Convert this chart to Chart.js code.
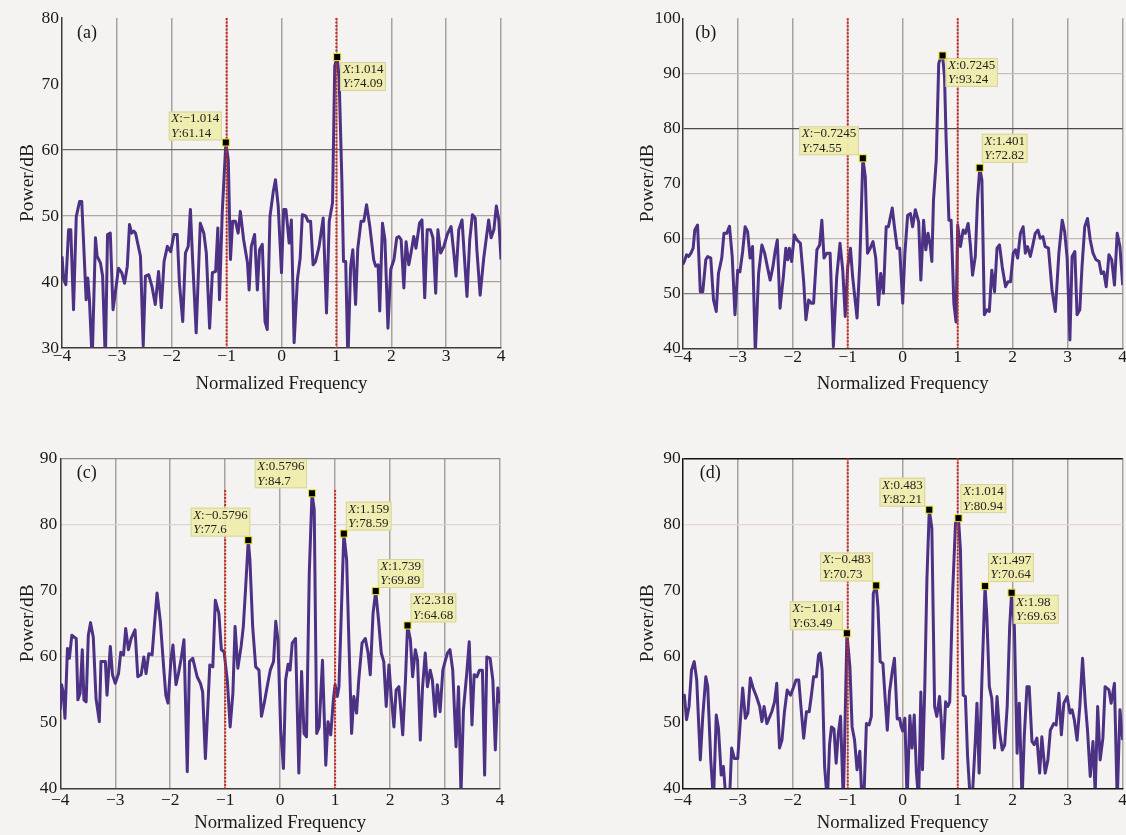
<!DOCTYPE html>
<html><head><meta charset="utf-8">
<script src="https://cdn.jsdelivr.net/npm/chart.js@4.4.0/dist/chart.umd.min.js"></script>
<style>
html,body{margin:0;padding:0;background:#f4f3f1;overflow:hidden;width:1126px;height:835px;position:relative;}
canvas{position:absolute;}
</style></head><body>
<canvas id="ca" width="520" height="400" style="left:0px;top:0px"></canvas>
<canvas id="cb" width="540" height="400" style="left:600px;top:0px"></canvas>
<canvas id="cc" width="520" height="395" style="left:0px;top:440px"></canvas>
<canvas id="cd" width="540" height="395" style="left:600px;top:440px"></canvas>
<script>
// ---------- shared tick labels ----------
const xTickValues = [-4,-3,-2,-1,0,1,2,3,4];
const yTicksA = [30,40,50,60,70,80];
const yTicksB = [40,50,60,70,80,90,100];
const yTicksC = [40,50,60,70,80,90];
const yTicksD = [40,50,60,70,80,90];
const panelLabels = ['(a)','(b)','(c)','(d)'];
const xTitle = 'Normalized Frequency';
const yTitle = 'Power/dB';

// ---------- panel (a) ----------
const freqA = [-4.00,-3.97,-3.93,-3.88,-3.84,-3.79,-3.74,-3.68,-3.64,-3.56,-3.53,-3.50,-3.45,-3.39,-3.36,-3.30,-3.26,-3.21,-3.17,-3.12,-3.07,-3.03,-2.97,-2.91,-2.86,-2.81,-2.77,-2.73,-2.69,-2.66,-2.57,-2.52,-2.48,-2.42,-2.36,-2.30,-2.24,-2.19,-2.14,-2.08,-2.02,-1.96,-1.90,-1.86,-1.80,-1.75,-1.70,-1.66,-1.62,-1.555,-1.48,-1.415,-1.37,-1.31,-1.26,-1.20,-1.16,-1.13,-1.08,-1.014,-0.97,-0.93,-0.89,-0.84,-0.79,-0.75,-0.69,-0.62,-0.59,-0.55,-0.49,-0.44,-0.40,-0.35,-0.30,-0.26,-0.21,-0.15,-0.11,-0.06,0.00,0.04,0.08,0.14,0.18,0.23,0.29,0.34,0.38,0.44,0.485,0.53,0.576,0.62,0.685,0.76,0.82,0.87,0.93,0.97,1.014,1.05,1.10,1.13,1.17,1.21,1.26,1.30,1.35,1.39,1.45,1.50,1.55,1.61,1.68,1.715,1.76,1.79,1.84,1.885,1.94,1.99,2.05,2.10,2.14,2.18,2.23,2.27,2.32,2.36,2.41,2.45,2.515,2.56,2.61,2.655,2.715,2.76,2.81,2.85,2.90,2.96,3.02,3.09,3.14,3.18,3.23,3.29,3.34,3.38,3.43,3.48,3.53,3.56,3.62,3.685,3.775,3.82,3.87,3.915,3.96,4.00];
const powerA = [43.9,40.4,39.6,47.9,47.9,35.8,49.9,52.2,52.2,37.3,40.6,37.3,28,46.7,43.9,42.9,40.9,28,47.2,47.4,35.8,38.3,42.1,41.4,39.8,42.4,48.7,47.4,47.7,47.4,43.9,30.3,40.9,41.1,39.3,36.6,41.6,36.1,43.1,45.4,44.6,47.2,47.2,39.8,34.0,44.4,45.4,51.0,43.4,32.3,48.9,47.4,44.4,33.0,41.4,41.6,48.2,37.3,50.5,61.14,58.5,43.4,49.2,49.2,47.4,50.7,46.4,42.9,38.8,45.4,47.2,38.8,44.9,45.7,34.0,32.8,49.9,53.7,55.5,51.5,41.4,51.0,51.0,45.9,49.4,30.8,40.4,43.6,50.2,50.0,49.2,49.2,42.6,43.1,45.4,49.7,35.3,49.2,52.0,72.7,74.09,70.9,55.5,43.1,43.1,28,42.4,44.9,36.6,45.1,49.2,49.2,51.7,48.4,43.4,42.4,42.6,35.6,48.9,46.4,33.0,41.9,43.4,46.7,46.9,46.4,39.1,46.1,42.6,44.4,46.9,45.1,48.9,49.4,37.6,47.9,47.9,46.7,38.3,47.9,44.4,45.4,47.2,48.4,44.4,40.9,47.9,49.4,42.9,37.8,46.4,50.2,49.7,44.9,38.0,43.6,49.4,46.7,47.9,51.5,49.4,43.4];
const tipXA = [-1.014, 1.014];
const tipYA = [61.14, 74.09];

// ---------- panel (b) ----------
const freqB = [-4.00,-3.97,-3.93,-3.89,-3.85,-3.81,-3.78,-3.73,-3.68,-3.635,-3.58,-3.545,-3.49,-3.44,-3.39,-3.35,-3.29,-3.25,-3.20,-3.15,-3.10,-3.05,-3.00,-2.96,-2.91,-2.865,-2.82,-2.775,-2.73,-2.68,-2.62,-2.56,-2.51,-2.46,-2.41,-2.36,-2.32,-2.28,-2.23,-2.17,-2.125,-2.09,-2.06,-2.02,-1.97,-1.925,-1.86,-1.80,-1.76,-1.71,-1.66,-1.62,-1.56,-1.51,-1.47,-1.43,-1.38,-1.32,-1.26,-1.20,-1.14,-1.09,-1.045,-1.00,-0.95,-0.91,-0.83,-0.78,-0.7245,-0.68,-0.64,-0.59,-0.54,-0.49,-0.44,-0.40,-0.35,-0.30,-0.26,-0.19,-0.15,-0.10,-0.055,0.00,0.04,0.09,0.14,0.18,0.23,0.29,0.33,0.38,0.42,0.46,0.50,0.53,0.56,0.61,0.655,0.685,0.7245,0.76,0.79,0.84,0.88,0.93,0.97,1.00,1.05,1.10,1.14,1.19,1.23,1.27,1.32,1.36,1.401,1.44,1.485,1.53,1.575,1.62,1.67,1.715,1.76,1.81,1.87,1.915,1.96,2.01,2.05,2.09,2.14,2.19,2.23,2.27,2.32,2.36,2.41,2.46,2.50,2.55,2.59,2.65,2.715,2.775,2.84,2.90,2.945,2.99,3.04,3.08,3.13,3.17,3.22,3.26,3.31,3.36,3.41,3.46,3.515,3.57,3.61,3.655,3.70,3.75,3.80,3.85,3.90,3.95,4.00];
const powerB = [55.2,55.8,57.0,56.7,57.3,58.2,61.5,62.4,50.3,50.3,56.1,56.7,56.4,48.8,46.7,53.6,56.4,60.9,60.9,62.2,56.7,46.1,54.2,53.9,57.6,62.1,61.2,56.4,58.5,39,53.6,58.8,57.3,54.8,52.4,54.8,57.6,59.7,47.3,53.0,58.2,56.1,58.2,55.8,60.6,59.7,59.1,52.1,45.2,48.8,48.2,48.2,57.9,58.8,63.3,56.4,57.3,57.3,40.3,53.0,59.1,54.2,45.8,54.8,58.2,53.0,45.5,55.5,74.55,71.2,57.3,58.2,59.4,56.4,47.9,53.6,50.0,62.1,62.1,65.5,62.1,58.2,58.2,48.2,57.3,64.2,64.5,62.1,65.2,63.0,52.4,63.3,57.9,60.9,58.8,55.8,67.0,74.2,91.8,92.7,93.24,89.4,77.9,63.3,63.3,48.2,44.8,62.4,58.5,61.5,60.9,62.7,58.8,53.3,56.7,67.0,72.82,70.6,46.1,47.0,46.7,54.2,50.3,58.2,58.8,54.8,51.2,52.1,52.1,57.3,57.9,56.4,60.9,62.1,57.3,58.5,56.7,58.5,60.9,61.5,60.0,60.3,58.5,58.2,50.6,46.7,57.3,63.3,61.2,56.4,41.5,56.7,57.6,46.1,47.0,54.8,62.1,63.6,59.7,57.3,56.1,55.8,53.6,53.9,51.2,57.0,56.1,51.5,60.9,58.5,51.5];
const tipXB = [-0.7245, 0.7245, 1.401];
const tipYB = [74.55, 93.24, 72.82];

// ---------- panel (c) ----------
const freqC = [-4.00,-3.976,-3.945,-3.915,-3.87,-3.835,-3.79,-3.75,-3.71,-3.68,-3.64,-3.60,-3.57,-3.53,-3.49,-3.45,-3.40,-3.35,-3.29,-3.26,-3.18,-3.15,-3.09,-3.05,-3.00,-2.94,-2.90,-2.85,-2.81,-2.76,-2.71,-2.64,-2.59,-2.53,-2.48,-2.44,-2.39,-2.33,-2.29,-2.24,-2.18,-2.12,-2.08,-2.04,-1.985,-1.95,-1.895,-1.85,-1.80,-1.75,-1.69,-1.65,-1.59,-1.51,-1.45,-1.41,-1.36,-1.28,-1.225,-1.18,-1.115,-1.07,-1.02,-0.96,-0.91,-0.86,-0.82,-0.77,-0.71,-0.67,-0.63,-0.5796,-0.55,-0.50,-0.445,-0.385,-0.34,-0.29,-0.23,-0.18,-0.12,-0.08,-0.04,0.01,0.06,0.10,0.145,0.18,0.22,0.28,0.34,0.39,0.435,0.48,0.53,0.5796,0.62,0.665,0.71,0.77,0.83,0.87,0.92,0.97,1.00,1.04,1.07,1.159,1.21,1.25,1.30,1.34,1.39,1.43,1.49,1.55,1.60,1.64,1.69,1.739,1.79,1.84,1.885,1.93,1.98,2.02,2.07,2.11,2.16,2.19,2.23,2.28,2.318,2.37,2.41,2.46,2.50,2.55,2.59,2.64,2.68,2.73,2.77,2.82,2.86,2.91,2.96,3.00,3.045,3.09,3.14,3.20,3.245,3.29,3.335,3.395,3.44,3.49,3.53,3.58,3.625,3.68,3.72,3.76,3.82,3.87,3.915,3.96,4.00];
const powerC = [51.9,55.7,54.4,50.6,61.2,59.7,63.2,62.9,62.7,53.4,54.4,61.0,53.4,53.1,63.2,65.1,62.9,53.6,50.1,59.2,59.2,54.1,61.5,57.2,55.9,57.4,60.6,60.2,64.2,61.0,62.7,64.0,56.9,57.2,59.9,57.4,60.4,60.2,64.5,69.6,65.3,58.4,54.1,52.9,59.7,61.7,55.7,57.4,59.7,62.5,42.5,59.2,59.7,56.9,55.9,54.6,44.5,58.7,58.4,68.5,66.5,61.0,60.7,56.2,49.3,54.4,64.5,58.2,61.5,64.5,70.1,77.6,74.6,64.5,58.4,57.9,50.9,52.9,55.7,57.9,59.2,65.3,62.5,48.8,43.0,56.4,58.8,57.9,62.0,62.7,42.3,57.7,48.3,47.8,72.6,84.7,82.2,48.3,49.3,59.4,43.5,50.1,48.1,53.6,55.7,53.9,55.4,78.59,74.6,62.5,48.3,53.9,51.4,56.4,62.0,62.7,60.5,57.2,66.5,69.89,65.5,60.5,59.2,52.4,58.7,54.1,49.3,54.9,55.4,52.4,48.1,56.4,64.68,62.5,56.9,61.0,59.4,47.3,55.2,60.5,55.4,57.9,56.4,50.9,55.7,51.6,57.9,59.2,60.5,61.0,57.9,46.3,55.4,39,51.9,57.4,62.2,49.6,57.2,56.9,57.9,57.9,42.0,59.9,59.7,56.4,45.8,55.2,52.9];
const tipXC = [-0.5796, 0.5796, 1.159, 1.739, 2.318];
const tipYC = [77.6, 84.7, 78.59, 69.89, 64.68];

// ---------- panel (d) ----------
const freqD = [-4.00,-3.97,-3.93,-3.885,-3.84,-3.79,-3.745,-3.68,-3.635,-3.58,-3.545,-3.49,-3.44,-3.39,-3.35,-3.30,-3.26,-3.21,-3.15,-3.11,-3.06,-3.00,-2.955,-2.91,-2.86,-2.815,-2.77,-2.72,-2.66,-2.60,-2.56,-2.52,-2.47,-2.43,-2.38,-2.33,-2.29,-2.24,-2.195,-2.15,-2.10,-2.04,-1.99,-1.94,-1.89,-1.84,-1.80,-1.75,-1.70,-1.66,-1.62,-1.57,-1.53,-1.50,-1.465,-1.42,-1.37,-1.33,-1.295,-1.25,-1.21,-1.17,-1.13,-1.08,-1.05,-1.014,-0.96,-0.92,-0.875,-0.83,-0.78,-0.74,-0.705,-0.66,-0.61,-0.57,-0.535,-0.483,-0.45,-0.41,-0.36,-0.31,-0.28,-0.24,-0.19,-0.15,-0.10,-0.055,-0.03,0.00,0.04,0.08,0.13,0.17,0.21,0.25,0.29,0.33,0.36,0.40,0.44,0.483,0.53,0.58,0.62,0.67,0.70,0.73,0.78,0.82,0.855,0.91,0.96,1.014,1.05,1.10,1.14,1.18,1.23,1.27,1.32,1.35,1.39,1.44,1.497,1.53,1.575,1.62,1.67,1.715,1.76,1.81,1.855,1.90,1.945,1.98,2.03,2.08,2.12,2.17,2.21,2.26,2.30,2.35,2.39,2.44,2.49,2.53,2.59,2.64,2.685,2.745,2.79,2.84,2.885,2.93,2.99,3.04,3.08,3.12,3.17,3.22,3.27,3.32,3.36,3.41,3.46,3.50,3.545,3.59,3.64,3.68,3.75,3.79,3.85,3.90,3.95,4.00];
const powerD = [54.1,54.1,50.4,52.4,57.9,59.2,56.4,44.3,50.9,56.9,55.4,44.3,38,51.1,49.1,42.0,43.3,38,38,46.1,44.5,44.5,49.8,55.2,50.6,51.4,56.7,55.2,53.9,52.4,50.1,52.4,49.8,50.6,51.6,53.1,55.9,46.1,47.3,51.6,54.9,54.1,55.2,56.4,56.4,51.4,47.6,51.6,51.6,54.1,56.9,56.9,60.2,60.5,57.9,43.3,38,46.6,49.3,49.0,43.8,48.3,50.9,38,49.3,63.49,58.4,49.3,47.3,42.8,45.6,38,38.5,49.8,49.6,50.9,69.5,70.73,67.5,59.2,58.9,52.4,48.8,54.6,57.7,59.7,50.5,50.6,49.4,48.7,50.6,38,51.0,46.1,51.1,42.3,38,54.6,42.8,54.8,71.6,82.21,79.4,52.4,50.9,53.9,50.4,44.5,53.1,52.4,53.1,70.1,80.2,80.94,76.1,54.1,53.9,44.8,38,39.3,47.1,52.9,42.3,56.4,70.64,66.0,55.4,53.6,46.1,53.9,48.6,45.8,46.6,52.4,64.5,69.63,64.5,45.3,52.9,38,47.8,55.4,55.4,47.1,46.6,47.6,42.3,47.8,42.3,44.3,48.8,49.8,49.6,54.4,48.1,52.9,53.9,51.4,51.9,50.4,47.3,52.4,59.7,52.9,48.8,41.8,47.1,39.3,52.4,44.3,47.6,55.4,54.9,52.9,55.9,38,51.9,47.3];
const tipXD = [-1.014, -0.483, 0.483, 1.014, 1.497, 1.98];
const tipYD = [63.49, 70.73, 82.21, 80.94, 70.64, 69.63];

// ---------- styling (not data) ----------
const SERIF = '"Liberation Serif", "Times New Roman", serif';
const LINE_COLOR = '#4d3184';
const GRID_V = 'rgba(120,112,108,0.62)';

function fmt(v){ return String(v).replace('-', '\u2212'); }

const overlayPlugin = {
  id: 'overlay',
  afterDatasetsDraw(chart, args, o) {
    const {ctx, chartArea: a} = chart;
    const x = chart.scales.x, y = chart.scales.y;
    ctx.save();
    ctx.strokeStyle = '#d3261c';
    ctx.lineWidth = 2;
    ctx.setLineDash([2, 1.5]);
    o.redLines.forEach(v => {
      const px = x.getPixelForValue(v);
      const top = o.redFrom != null ? y.getPixelForValue(o.redFrom) : a.top;
      ctx.beginPath(); ctx.moveTo(px, top); ctx.lineTo(px, a.bottom); ctx.stroke();
    });
    ctx.setLineDash([]);
    ctx.fillStyle = '#161616';
    ctx.font = '18px ' + SERIF;
    ctx.textAlign = 'left'; ctx.textBaseline = 'middle';
    ctx.fillText(o.label, a.left + o.labelDx, a.top + o.labelDy);
    o.tipX.forEach((tx, i) => {
      const ty = o.tipY[i];
      const px = x.getPixelForValue(tx), py = y.getPixelForValue(ty);
      drawTip(ctx, px, py, tx, ty, o.place[i]);
    });
    ctx.restore();
  }
};

function drawTip(ctx, px, py, tx, ty, pl) {
  const fs = 13;
  const it = 'italic ' + fs + 'px ' + SERIF, rg = fs + 'px ' + SERIF;
  const sx = ':' + fmt(tx), sy = ':' + fmt(ty);
  ctx.font = it; const wX = ctx.measureText('X').width, wY = ctx.measureText('Y').width;
  ctx.font = rg; const w1 = wX + ctx.measureText(sx).width, w2 = wY + ctx.measureText(sy).width;
  const bw = Math.max(w1, w2) + 5, bh = 29;
  const bx = pl.h === 'l' ? px + pl.ox - bw : px + pl.ox;
  const by = pl.v === 'a' ? py + pl.oy - bh : py + pl.oy;
  ctx.fillStyle = 'rgba(239,236,174,0.96)';
  ctx.fillRect(bx, by, bw, bh);
  ctx.strokeStyle = 'rgba(214,211,160,1)'; ctx.lineWidth = 1;
  ctx.strokeRect(bx + 0.5, by + 0.5, bw - 1, bh - 1);
  ctx.fillStyle = '#1e1e1e'; ctx.textBaseline = 'middle'; ctx.textAlign = 'left';
  [['X', sx, by + 7.5, wX], ['Y', sy, by + 22, wY]].forEach(([l, s, yy, lw]) => {
    ctx.font = it; ctx.fillText(l, bx + 2.5, yy);
    ctx.font = rg; ctx.fillText(s, bx + 2.5 + lw, yy);
  });
  ctx.fillStyle = '#e6df1c'; ctx.fillRect(px - 4, py - 4, 8, 8);
  ctx.fillStyle = '#000'; ctx.fillRect(px - 3, py - 3, 6, 6);
}

function makePanel(id, cfg) {
  const pts = cfg.freq.map((f, i) => ({x: f, y: cfg.power[i]}));
  return new Chart(document.getElementById(id), {
    type: 'line',
    data: { datasets: [{ data: pts, borderColor: LINE_COLOR, borderWidth: 3, pointRadius: 0,
      tension: 0, borderJoinStyle: 'round', fill: false }] },
    options: {
      responsive: false, animation: false, events: [],
      layout: { padding: { left: 0, right: cfg.padRight, top: cfg.padTop, bottom: 0 } },
      plugins: { legend: { display: false }, tooltip: { enabled: false },
        overlay: { redLines: [-1, 1], redFrom: cfg.redFrom, label: cfg.label,
          labelDx: cfg.labelDx, labelDy: 15, tipX: cfg.tipX, tipY: cfg.tipY, place: cfg.place } },
      scales: {
        x: {
          type: 'linear', min: -4, max: 4,
          afterBuildTicks: s => { s.ticks = xTickValues.map(v => ({value: v})); },
          afterFit: s => { s.height = cfg.xHeight; },
          ticks: { autoSkip: false, maxRotation: 0, padding: cfg.xTickPad, color: '#1a1a1a',
            font: { family: SERIF, size: 17.5, lineHeight: 1 }, callback: v => fmt(v) },
          grid: { drawTicks: false, lineWidth: 1.5,
            color: c => (c.tick && c.tick.value === -4) ? 'rgba(0,0,0,0)' : GRID_V },
          border: { display: true, color: cfg.axisColor, width: 1.5 },
          title: { display: true, text: xTitle, color: '#1a1a1a',
            font: { family: SERIF, size: 18.7, lineHeight: 1.2 }, padding: { top: 0, bottom: cfg.xTitlePad } }
        },
        y: {
          type: 'linear', min: cfg.yTicks[0], max: cfg.yTicks[cfg.yTicks.length - 1],
          afterBuildTicks: s => { s.ticks = cfg.yTicks.map(v => ({value: v})); },
          afterFit: s => { s.width = cfg.yWidth; },
          ticks: { autoSkip: false, padding: cfg.yTickPad, color: '#1a1a1a',
            font: { family: SERIF, size: 17.5, lineHeight: 1 } },
          grid: { drawTicks: false,
            color: c => (c.tick && cfg.hGrid[c.tick.value]) || 'rgba(0,0,0,0)',
            lineWidth: c => (c.tick && cfg.hWidth && cfg.hWidth[c.tick.value]) || 1.2 },
          border: { display: true, color: cfg.axisColor, width: 1.5 },
          title: { display: true, text: yTitle, color: '#1a1a1a',
            font: { family: SERIF, size: 19.5, lineHeight: 1.2 }, padding: { top: cfg.yTitlePad, bottom: 0 } }
        }
      }
    },
    plugins: [overlayPlugin]
  });
}

makePanel('ca', {
  freq: freqA, power: powerA, yTicks: yTicksA, tipX: tipXA, tipY: tipYA,
  place: [{h:'l', v:'a', ox:-4, oy:-2}, {h:'r', v:'b', ox:3, oy:5}],
  label: panelLabels[0], labelDx: 15, redFrom: null,
  padRight: 19, padTop: 18, yWidth: 62, xHeight: 52, xTickPad: 0, yTickPad: 3,
  xTitlePad: 4.5, yTitlePad: 16.3, axisColor: '#3f3a38',
  hGrid: {40: '#a69e9a', 50: '#b0a8a4', 60: '#6f6764'}
});
makePanel('cb', {
  freq: freqB, power: powerB, yTicks: yTicksB, tipX: tipXB, tipY: tipYB,
  place: [{h:'l', v:'a', ox:-4, oy:-3}, {h:'r', v:'b', ox:3, oy:2.5}, {h:'r', v:'a', ox:2, oy:-5}],
  label: panelLabels[1], labelDx: 12.5, redFrom: null,
  padRight: 17.3, padTop: 18.3, yWidth: 82.7, xHeight: 51.7, xTickPad: 0, yTickPad: 2,
  xTitlePad: 4.5, yTitlePad: 36.3, axisColor: '#3f3a38',
  hGrid: {50: '#857d7a', 60: '#c0b8b4', 80: '#4f4846', 90: '#c6beba'}
});
makePanel('cc', {
  freq: freqC, power: powerC, yTicks: yTicksC, tipX: tipXC, tipY: tipYC,
  place: [{h:'l', v:'a', ox:2, oy:-3.5}, {h:'l', v:'a', ox:-5, oy:-5}, {h:'r', v:'a', ox:2, oy:-3},
          {h:'r', v:'a', ox:2, oy:-3}, {h:'r', v:'a', ox:3, oy:-3}],
  label: panelLabels[2], labelDx: 16.5, redFrom: 85.2,
  padRight: 20, padTop: 18.3, yWidth: 60.3, xHeight: 46.7, xTickPad: 3, yTickPad: 3,
  xTitlePad: 0.5, yTitlePad: 16.3, axisColor: '#3f3a38',
  hGrid: {90: '#8e8784', 80: '#dcd5d1', 60: '#d6cfcb'}
});
makePanel('cd', {
  freq: freqD, power: powerD, yTicks: yTicksD, tipX: tipXD, tipY: tipYD,
  place: [{h:'l', v:'a', ox:-4, oy:-3}, {h:'l', v:'a', ox:-3, oy:-4}, {h:'l', v:'a', ox:-4, oy:-3},
          {h:'r', v:'a', ox:2, oy:-5}, {h:'r', v:'a', ox:3, oy:-4}, {h:'r', v:'b', ox:2, oy:2}],
  label: panelLabels[3], labelDx: 17, redFrom: null,
  padRight: 17.3, padTop: 18.3, yWidth: 82.7, xHeight: 46.7, xTickPad: 3, yTickPad: 2,
  xTitlePad: 0.5, yTitlePad: 36.3, axisColor: '#151515',
  hGrid: {90: '#111111', 80: '#ead6d2'}, hWidth: {90: 1.5}
});
</script>
</body></html>
